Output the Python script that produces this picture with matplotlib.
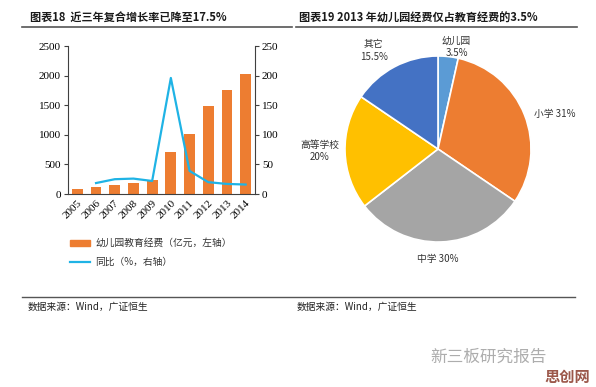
import matplotlib
matplotlib.use("Agg")
import matplotlib.pyplot as plt
from matplotlib.lines import Line2D

plt.rcParams['font.family'] = ['Noto Sans CJK SC', 'DejaVu Sans']

years = ['2005', '2006', '2007', '2008', '2009', '2010', '2011', '2012', '2013', '2014']
spend = [92, 112, 146, 190, 236, 713, 1010, 1487, 1755, 2035]
yoy = [None, 18.5, 25, 26, 22, 196, 39, 20, 17, 16]

pie_labels = ['幼儿园', '小学', '中学', '高等学校', '其它']
pie_values = [3.5, 31, 30, 20, 15.5]
pie_texts = ['幼儿园\n3.5%', '小学 31%', '中学 30%', '高等学校\n20%', '其它\n15.5%']
pie_colors = ['#5B9BD5', '#ED7D31', '#A5A5A5', '#FFC000', '#4472C4']

W, H = 596, 387
fig = plt.figure(figsize=(W / 100, H / 100), dpi=100)

def fx(px):
    return px / W

def fy(py):
    return 1 - py / H

serif = 'Liberation Serif'

# Titles
fig.text(fx(30), fy(18), '图表18  近三年复合增长率已降至17.5%', fontsize=8, fontweight='bold',
         va='center', ha='left', color='#1a1a1a')
fig.text(fx(299), fy(18), '图表19 2013 年幼儿园经费仅占教育经费的3.5%', fontsize=8, fontweight='bold',
         va='center', ha='left', color='#1a1a1a')
fig.add_artist(Line2D([fx(22), fx(292)], [fy(27), fy(27)], color='#555555', lw=1.2))
fig.add_artist(Line2D([fx(296), fx(577)], [fy(27), fy(27)], color='#555555', lw=1.2))

# Bar + line chart
ax = fig.add_axes([fx(68), fy(194), fx(255) - fx(68), fy(46) - fy(194)])
x = list(range(len(years)))
ax.bar(x, spend, width=0.58, color='#ED7D31', zorder=2)
ax.set_xlim(-0.5, len(years) - 0.5)
ax.set_ylim(0, 2500)
ax.set_yticks([0, 500, 1000, 1500, 2000, 2500])
ax.set_xticks(x)
ax.set_xticklabels(years, rotation=45, ha='right', rotation_mode='anchor')
for s in ['top', 'right']:
    ax.spines[s].set_visible(False)
for s in ['left', 'bottom']:
    ax.spines[s].set_color('#404040')
ax.tick_params(axis='both', labelsize=8, color='#404040', length=3, pad=2)
ax.tick_params(axis='x', length=0, pad=3)
for lab in ax.get_xticklabels() + ax.get_yticklabels():
    lab.set_fontfamily(serif)

ax2 = ax.twinx()
xs = [xi for xi, v in zip(x, yoy) if v is not None]
vs = [v for v in yoy if v is not None]
ax2.plot(xs, vs, color='#1FB3E5', lw=1.6, zorder=3)
ax2.set_ylim(0, 250)
ax2.set_yticks([0, 50, 100, 150, 200, 250])
for s in ['top', 'left', 'bottom']:
    ax2.spines[s].set_visible(False)
ax2.spines['right'].set_color('#404040')
ax2.tick_params(axis='y', labelsize=8, color='#404040', length=3, pad=2)
for lab in ax2.get_yticklabels():
    lab.set_fontfamily(serif)

# Legend
fig.add_artist(plt.Rectangle((fx(70), fy(246)), fx(90) - fx(70), fy(240) - fy(246), color='#ED7D31',
                             transform=fig.transFigure))
fig.text(fx(95), fy(243), '幼儿园教育经费（亿元，左轴）', fontsize=7, va='center', ha='left', color='#333333')
fig.add_artist(Line2D([fx(70), fx(90)], [fy(262), fy(262)], color='#1FB3E5', lw=1.6))
fig.text(fx(95), fy(262), '同比（%，右轴）', fontsize=7, va='center', ha='left', color='#333333')

# Pie chart
cx, cy, r = 438, 149, 93
pax = fig.add_axes([fx(cx - r), fy(cy + r), 2 * r / W, 2 * r / H])
pax.pie(pie_values, colors=pie_colors, startangle=90, counterclock=False, radius=1,
        wedgeprops=dict(edgecolor='white', linewidth=1.2))
pax.set_xlim(-1, 1)
pax.set_ylim(-1, 1)
pax.set_aspect('equal')
pax.axis('off')

label_pos = [(0.2, 1.1), (1.25, 0.38), (0.0, -1.18), (-1.27, -0.02), (-0.69, 1.06)]
for (lx, ly), t in zip(label_pos, pie_texts):
    pax.text(lx, ly, t, fontsize=7, ha='center', va='center', color='#333333',
             linespacing=1.3, clip_on=False)

# Source line
fig.add_artist(Line2D([fx(22), fx(575)], [fy(297), fy(297)], color='#555555', lw=1.0))
fig.text(fx(28), fy(307), '数据来源：Wind，广证恒生', fontsize=7, va='center', ha='left', color='#222222')
fig.text(fx(297), fy(307), '数据来源：Wind，广证恒生', fontsize=7, va='center', ha='left', color='#222222')

# Watermark
fig.text(fx(430), fy(357), '新三板研究报告', fontsize=12, va='center', ha='left', color='#999999', alpha=0.8)
fig.text(fx(590), fy(377), '思创网', fontsize=11, fontweight='bold', va='center', ha='right', color='#8a3a2a',
         alpha=0.85)

fig.savefig('out.png', dpi=100)
